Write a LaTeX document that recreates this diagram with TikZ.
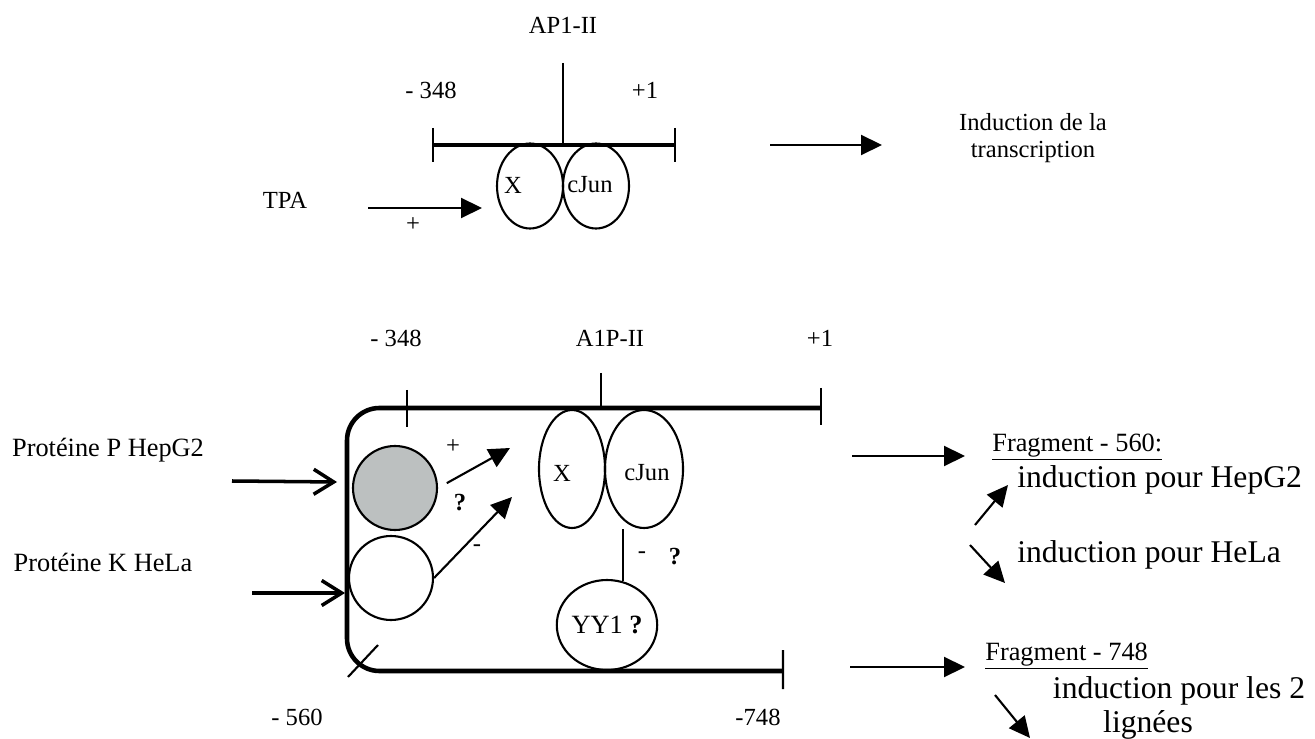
\documentclass[tikz,border=0pt]{standalone}
\usepackage{fontspec}
\setmainfont{Liberation Serif}
\usepackage{tikz}
\usetikzlibrary{arrows.meta,positioning,shapes.geometric,calc}
\definecolor{protgray}{RGB}{188,192,192}
\newcommand{\pxu}{0.02cm}
\tikzset{
  lbl/.style={font=\fontsize{14}{15.5}\selectfont, inner sep=0pt},
  side/.style={font=\fontsize{15}{17}\selectfont, inner sep=0pt},
  big/.style={font=\fontsize{18}{20}\selectfont, inner sep=0pt, anchor=west},
  prot/.style={ellipse, draw, line width=1.2pt, inner sep=0pt},
  dna/.style={line width=2.6pt},
  tick/.style={line width=1.2pt},
  arrow/.style={-{Triangle[length=4.2mm, width=4mm]}, line width=1.2pt},
  openarrow/.style={-{Straight Barb[length=4mm, width=5mm]}, line width=2pt}
}
\begin{document}
\begin{tikzpicture}[x=\pxu, y=-\pxu]
\useasboundingbox (0,0) rectangle (1315,739);
% upper scheme
\node[lbl] (ap1) at (563,25) {AP1-II};
\node[lbl] (m348a) at (431,90) {- 348};
\node[lbl] (p1a) at (645,90) {+1};
\draw[tick] (563,63) -- (563,145);
\draw[dna] (433,145) -- (675,145);
\draw[tick] (433,128) -- (433,162) (675,128) -- (675,162);
\node[prot, minimum width=66*\pxu, minimum height=85*\pxu] (xa) at (530,186) {};
\node[prot, minimum width=66*\pxu, minimum height=85*\pxu] (juna) at (596,186) {};
\node[lbl] (xalbl) at (513,185) {X};
\node[lbl] (junalbl) at (590,185) {cJun};
\node[lbl] (tpa) at (285,200) {TPA};
\coordinate (tpaS) at (368,208); \coordinate (tpaE) at (482,208);
\draw[arrow] (tpaS) -- (tpaE);
\node[lbl] (plusa) at (413,225) {+};
\coordinate (indS) at (770,145); \coordinate (indE) at (882,145);
\draw[arrow] (indS) -- (indE);
\node[lbl, align=center] (ind) at (1033,138) {Induction de la\\transcription};
% lower scheme
\node[lbl] (m348b) at (396,338) {- 348};
\node[lbl] (a1p) at (610,338) {A1P-II};
\node[lbl] (p1b) at (820,338) {+1};
\draw[dna, rounded corners=0.65cm] (821,408) -- (347,408) -- (347,671) -- (783,671);
\draw[tick] (407,390) -- (407,427) (601,373) -- (601,408) (821,388) -- (821,425);
\draw[tick] (783,650) -- (783,689) (348,677) -- (378,645);
\node[lbl] (m560) at (297,717) {- 560};
\node[lbl] (m748) at (758,717) {-748};
\node[prot, minimum width=66*\pxu, minimum height=118*\pxu] (xb) at (572,469) {};
\node[prot, minimum width=78*\pxu, minimum height=118*\pxu] (junb) at (644,469) {};
\node[lbl] (xblbl) at (562,473) {X};
\node[lbl] (junblbl) at (647,473) {cJun};
\node[prot, circle, fill=protgray, minimum size=84*\pxu] (gp) at (395,488) {};
\node[prot, circle, minimum size=84*\pxu] (wk) at (391,578) {};
\node[prot, minimum width=96*\pxu, minimum height=90*\pxu, font=\fontsize{15}{17}\selectfont] (yy) at (607,625) {YY1 \textbf{?}};
\draw[tick] (junb.south -| yy.70) -- (yy.70);
\node[lbl] (minyy) at (642,555) {-};
\node[lbl] (qyy) at (675,557) {\textbf{?}};
\coordinate (tipP) at (510,448); \coordinate (tipK) at (512,497);
\draw[arrow, shorten <=0.2cm] (gp.east) -- (tipP);
\draw[arrow] (wk.east) -- (tipK);
\node[lbl] (plusb) at (453,447) {+};
\node[lbl] (qgp) at (460,503) {\textbf{?}};
\node[lbl] (minwk) at (477,548) {-};
\node[side] (protp) at (108,450) {Protéine P HepG2};
\node[side] (protk) at (103,562) {Protéine K HeLa};
\coordinate (pS) at (232,481); \coordinate (pE) at (337,482);
\coordinate (kS) at (252,593); \coordinate (kE) at (345,593);
\draw[openarrow] (pS) -- (pE);
\draw[openarrow] (kS) -- (kE);
% results
\coordinate (f5S) at (852,456); \coordinate (f5E) at (965,456);
\draw[arrow] (f5S) -- (f5E);
\node[side, anchor=west] (frag5) at (992,447) {\underline{Fragment - 560:}};
\node[big] (hep) at (1017,480) {induction pour HepG2};
\node[big] (hela) at (1017,555) {induction pour HeLa};
\coordinate (upS) at (975,525); \coordinate (upE) at (1008,485);
\coordinate (dnS) at (970,545); \coordinate (dnE) at (1005,583);
\draw[arrow] (upS) -- (upE);
\draw[arrow] (dnS) -- (dnE);
\coordinate (f7S) at (850,667); \coordinate (f7E) at (965,667);
\draw[arrow] (f7S) -- (f7E);
\node[side, anchor=base west] (frag7) at (985,660) {\underline{Fragment - 748}};
\node[big, anchor=base] (les2) at (1179,698) {induction pour les 2};
\node[big, anchor=base] (lign) at (1148,732) {lignées};
\coordinate (lgS) at (995,695); \coordinate (lgE) at (1030,738);
\draw[arrow] (lgS) -- (lgE);
\end{tikzpicture}
\end{document}
